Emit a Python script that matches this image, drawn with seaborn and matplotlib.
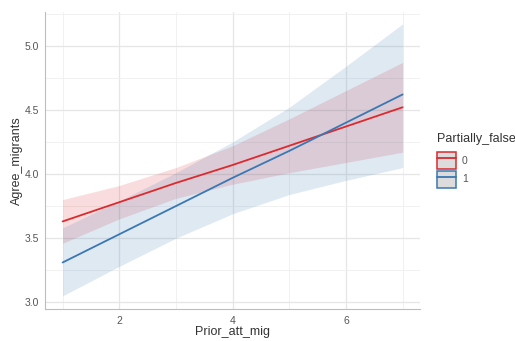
import matplotlib
matplotlib.use("Agg")
import matplotlib.pyplot as plt
import seaborn as sns
import pandas as pd
import numpy as np
from matplotlib.patches import Patch
from matplotlib.lines import Line2D
from matplotlib.legend_handler import HandlerTuple

# ---- data ----
prior_att_mig = [1, 2, 3, 4, 5, 6, 7]
groups = ["0", "1"]
fit_0 = [3.63, 3.78, 3.93, 4.07, 4.22, 4.37, 4.52]
low_0 = [3.46, 3.65, 3.81, 3.92, 4.01, 4.09, 4.17]
upp_0 = [3.80, 3.91, 4.05, 4.22, 4.43, 4.65, 4.87]
fit_1 = [3.31, 3.53, 3.75, 3.97, 4.18, 4.40, 4.62]
low_1 = [3.05, 3.28, 3.50, 3.69, 3.84, 3.95, 4.05]
upp_1 = [3.58, 3.79, 4.01, 4.25, 4.52, 4.84, 5.17]
x_ticks = [2, 4, 6]
y_ticks = [3.0, 3.5, 4.0, 4.5, 5.0]

df = pd.concat([
    pd.DataFrame({"Prior_att_mig": prior_att_mig, "Agree_migrants": fit_0,
                  "lower": low_0, "upper": upp_0, "Partially_false": "0"}),
    pd.DataFrame({"Prior_att_mig": prior_att_mig, "Agree_migrants": fit_1,
                  "lower": low_1, "upper": upp_1, "Partially_false": "1"}),
])

colors = {"0": "#DC2A2E", "1": "#3A78B3"}

sns.set_theme(style="white")
plt.rcParams["font.family"] = ["Liberation Sans", "DejaVu Sans"]

fig = plt.figure(figsize=(5.15, 3.41), dpi=100)
ax = fig.add_axes([45 / 515, 1 - 309.3 / 341, (420 - 45) / 515, (309.3 - 11.7) / 341])

for g in groups:
    sub = df[df["Partially_false"] == g]
    ax.fill_between(sub["Prior_att_mig"], sub["lower"], sub["upper"],
                    color=colors[g], alpha=0.16, linewidth=0, zorder=2)

sns.lineplot(data=df, x="Prior_att_mig", y="Agree_migrants", hue="Partially_false",
             palette=colors, errorbar=None, linewidth=1.3, ax=ax, legend=False, zorder=3)

ax.set_xlim(0.689, 7.306)
ax.set_ylim(2.945, 5.265)
ax.set_xticks(x_ticks)
ax.set_yticks(y_ticks)
ax.set_yticklabels([f"{v:.1f}" for v in y_ticks])
ax.set_xticks([1, 3, 5, 7], minor=True)
ax.set_yticks([3.25, 3.75, 4.25, 4.75, 5.25], minor=True)
ax.grid(True, which="major", color="#e6e6e6", linewidth=0.9, zorder=0)
ax.grid(True, which="minor", color="#efefef", linewidth=0.6, zorder=0)
ax.set_axisbelow(True)
for s in ["top", "right"]:
    ax.spines[s].set_visible(False)
for s in ["left", "bottom"]:
    ax.spines[s].set_color("#bdbdbd")
    ax.spines[s].set_linewidth(0.8)
ax.tick_params(axis="both", which="both", length=0, labelsize=7.5, labelcolor="#555555")
ax.tick_params(axis="x", pad=5)
ax.tick_params(axis="y", pad=4)
ax.set_xlabel("Prior_att_mig", fontsize=9, color="#333333")
ax.set_ylabel("Agree_migrants", fontsize=9, color="#333333")
ax.xaxis.set_label_coords(0.5, -(332.5 - 309.3) / (309.3 - 11.7))
ax.xaxis.label.set_va("center")
ax.yaxis.set_label_coords(-(45 - 17) / (420 - 45), 0.5)
ax.yaxis.label.set_va("center")

handles = []
for g in groups:
    handles.append((Patch(facecolor="#dcdcdc", edgecolor=colors[g], linewidth=1.1),
                    Line2D([], [], color=colors[g], linewidth=1.3)))
leg = ax.legend(handles, groups, title="Partially_false",
                handler_map={tuple: HandlerTuple(ndivide=1, pad=0)},
                loc="upper left", bbox_to_anchor=(437 / 515, 1 - 133 / 341),
                bbox_transform=fig.transFigure, frameon=False, fontsize=7.5,
                title_fontsize=9, handlelength=1.8, handleheight=2.1,
                labelspacing=0.2, handletextpad=0.6, borderpad=0, borderaxespad=0,
                alignment="left")
leg._legend_box.sep = 5
leg.get_title().set_color("#333333")
for t in leg.get_texts():
    t.set_color("#555555")

fig.savefig("out.png", dpi=100)
